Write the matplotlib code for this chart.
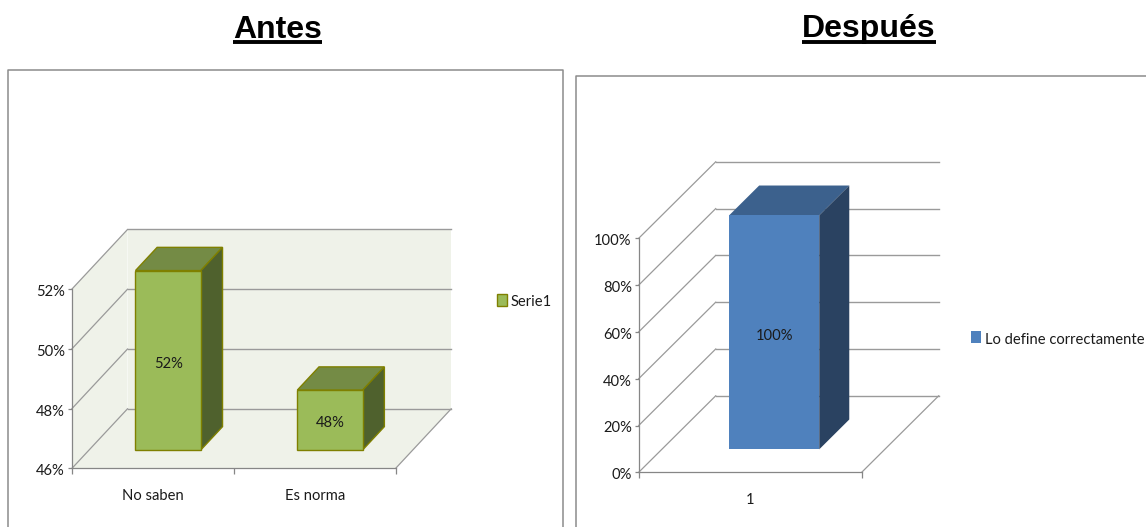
import matplotlib
matplotlib.use("Agg")
import matplotlib.pyplot as plt
from matplotlib.lines import Line2D
from matplotlib.patches import Patch, Polygon
from matplotlib.transforms import Affine2D

W, H = 1146, 527

# data
antes_cats = ["No saben", "Es norma"]
antes_vals = [52, 48]
antes_ticks = [46, 48, 50, 52]
antes_serie = "Serie1"

despues_cats = ["1"]
despues_vals = [100]
despues_ticks = [0, 20, 40, 60, 80, 100]
despues_serie = "Lo define correctamente"

plt.rcParams["font.family"] = ["Lato", "DejaVu Sans"]

GRID = "#9a9a9a"
AXIS = "#868686"
TEXT = "#1a1a1a"
FS = 10.6


def make_axes(left, right, bottom, top):
    # axes given in image pixels
    ax = fig.add_axes([left / W, 1 - bottom / H, (right - left) / W, (bottom - top) / H])
    ax.patch.set_visible(False)
    for s in ["top", "right"]:
        ax.spines[s].set_visible(False)
    for s in ["left", "bottom"]:
        ax.spines[s].set_color(AXIS)
        ax.spines[s].set_linewidth(0.9)
    return ax


def depth(ax, frac, dx, dy):
    # moves a point towards the back of the 3d box (frac 0 = front, 1 = back)
    return ax.transData + Affine2D().translate(frac * dx, frac * dy)


def poly(ax, pts, tr, **kw):
    ax.add_patch(Polygon(pts, closed=True, transform=tr, clip_on=False, **kw))


def box_3d(ax, cats, vals, ticks, dx, dy, wall, face, top, side, edge, d0, d1, shift, width):
    x0, x1 = ax.get_xlim()
    y0 = ticks[0]

    if wall is not None:
        front = ax.transData
        p0 = ax.transData.transform((x0, y0))
        p1 = ax.transData.transform((x1, ticks[-1]))
        inv = ax.transData.inverted()
        # left wall, back wall, floor
        a = inv.transform((p0[0] + dx, p0[1] + dy))
        b = inv.transform((p0[0] + dx, p1[1] + dy))
        c = inv.transform((p1[0] + dx, p1[1] + dy))
        d = inv.transform((p1[0] + dx, p0[1] + dy))
        poly(ax, [(x0, y0), (x0, ticks[-1]), b, a], front, fc=wall, ec="none", zorder=0)
        poly(ax, [a, b, c, d], front, fc=wall, ec="none", zorder=0)
        poly(ax, [(x0, y0), (x1, y0), d, a], front, fc=wall, ec="none", zorder=0)

    back = depth(ax, 1, dx, dy)
    for t in ticks:
        # diagonal on the side wall, then the line along the back wall
        p = ax.transData.transform((x0, t))
        ax.add_line(Line2D([p[0], p[0] + dx], [p[1], p[1] + dy], transform=None,
                           color=GRID, lw=0.9, zorder=1, clip_on=False))
        ax.plot([x0, x1], [t, t], transform=back, color=GRID, lw=1.0, zorder=1, clip_on=False)

    # right edge of the floor
    p = ax.transData.transform((x1, y0))
    ax.add_line(Line2D([p[0], p[0] + dx], [p[1], p[1] + dy], transform=None,
                       color=GRID, lw=0.9, zorder=1, clip_on=False))

    tf = depth(ax, d0, dx, dy)
    tb = depth(ax, d1, dx, dy)
    for i, v in enumerate(vals):
        l = i + shift - width / 2
        r = i + shift + width / 2
        pf = [tf.transform(q) for q in [(l, y0), (r, y0), (r, v), (l, v)]]
        pb = [tb.transform(q) for q in [(l, y0), (r, y0), (r, v), (l, v)]]
        style = dict(transform=None, clip_on=False, zorder=3)
        if edge is None:
            style.update(ec="none")
            lw = {}
        else:
            style.update(ec=edge)
            lw = {"lw": 1.0}
        ax.add_patch(Polygon([pf[3], pf[2], pb[2], pb[3]], fc=top, **style, **lw))
        ax.add_patch(Polygon([pf[1], pb[1], pb[2], pf[2]], fc=side, **style, **lw))
        ax.add_patch(Polygon(pf, fc=face, **style, **lw))
        # label in the middle of the front face
        cx = (pf[0][0] + pf[1][0]) / 2
        cy = (pf[0][1] + pf[2][1]) / 2 - 3.5
        ax.text(cx, cy, f"{v}%", transform=None, ha="center", va="center",
                fontsize=FS, color=TEXT, zorder=4)

    ax.set_yticks(ticks)
    ax.set_yticklabels([f"{t}%" for t in ticks], fontsize=FS, color=TEXT)
    ax.tick_params(axis="y", length=3, width=0.9, color=AXIS, pad=2)
    # the reference labels sit a little under their ticks
    for lab in ax.get_yticklabels():
        lab.set_transform(lab.get_transform() + Affine2D().translate(0, -1.5))
    ax.set_xticks(range(len(cats) + 1))
    ax.set_xticklabels([])
    ax.set_xticks([i + 0.5 for i in range(len(cats))], minor=True)
    ax.set_xticklabels(cats, minor=True, fontsize=FS, color=TEXT)
    ax.tick_params(axis="x", which="major", length=4, width=0.9, color=AXIS)
    ax.tick_params(axis="x", which="minor", length=0, pad=15)


fig = plt.figure(figsize=(W / 100, H / 100), dpi=100, facecolor="white")

# page layer in pixels: frames and headings
page = fig.add_axes([0, 0, 1, 1])
page.set_xlim(0, W)
page.set_ylim(H, 0)
page.axis("off")
page.plot([7.5, 7.5, 562.5, 562.5], [H, 70, 70, H], color="#8c8c8c", lw=1.1)
page.plot([575.5, 575.5, W], [H, 75.5, 75.5], color="#8c8c8c", lw=1.1)
for label, cx, under in [("Antes", 277.5, (233, 322)), ("Después", 868.5, (802, 936))]:
    page.text(cx, 37.5, label, ha="center", va="baseline", fontsize=23, fontweight="bold",
              family="Liberation Sans", color="black")
    page.plot(under, [42, 42], color="black", lw=2.8, solid_capstyle="butt")

# left chart
ax1 = make_axes(72, 395.7, 468.3, 289)
ax1.set_xlim(0, len(antes_cats))
ax1.set_ylim(antes_ticks[0], antes_ticks[-1])
box_3d(ax1, antes_cats, antes_vals, antes_ticks, 55.5, 59.5, "#eff2e9", "#9bbb59", "#748b45",
       "#4f612d", "#7f8000", 0.31, 0.70, 0.488, 0.404)
leg1 = ax1.legend(handles=[Patch(fc="#9bbb59", ec="#7f8000", lw=1.0, label=antes_serie)],
                  loc="center left", bbox_to_anchor=(494 / W, 1 - 301 / H),
                  bbox_transform=fig.transFigure, frameon=False, fontsize=FS, labelcolor=TEXT,
                  handlelength=0.65, handleheight=0.85, handletextpad=0.3, borderpad=0.2, borderaxespad=0)
leg1.get_texts()[0].set_y(-1.5)

# right chart
ax2 = make_axes(638.7, 861.7, 472.3, 238.3)
ax2.set_xlim(0, len(despues_cats))
ax2.set_ylim(despues_ticks[0], despues_ticks[-1])
box_3d(ax2, despues_cats, despues_vals, despues_ticks, 77, 76.5, None, "#4f81bd", "#3c618d",
       "#2a4261", None, 0.30, 0.69, 0.504, 0.404)
leg2 = ax2.legend(handles=[Patch(fc="#4f81bd", ec="none", label=despues_serie)],
                  loc="center left", bbox_to_anchor=(968 / W, 1 - 338 / H),
                  bbox_transform=fig.transFigure, frameon=False, fontsize=FS, labelcolor=TEXT,
                  handlelength=0.65, handleheight=0.85, handletextpad=0.3, borderpad=0.2, borderaxespad=0)
leg2.get_texts()[0].set_y(-1.5)

fig.savefig("out.png", dpi=100)
